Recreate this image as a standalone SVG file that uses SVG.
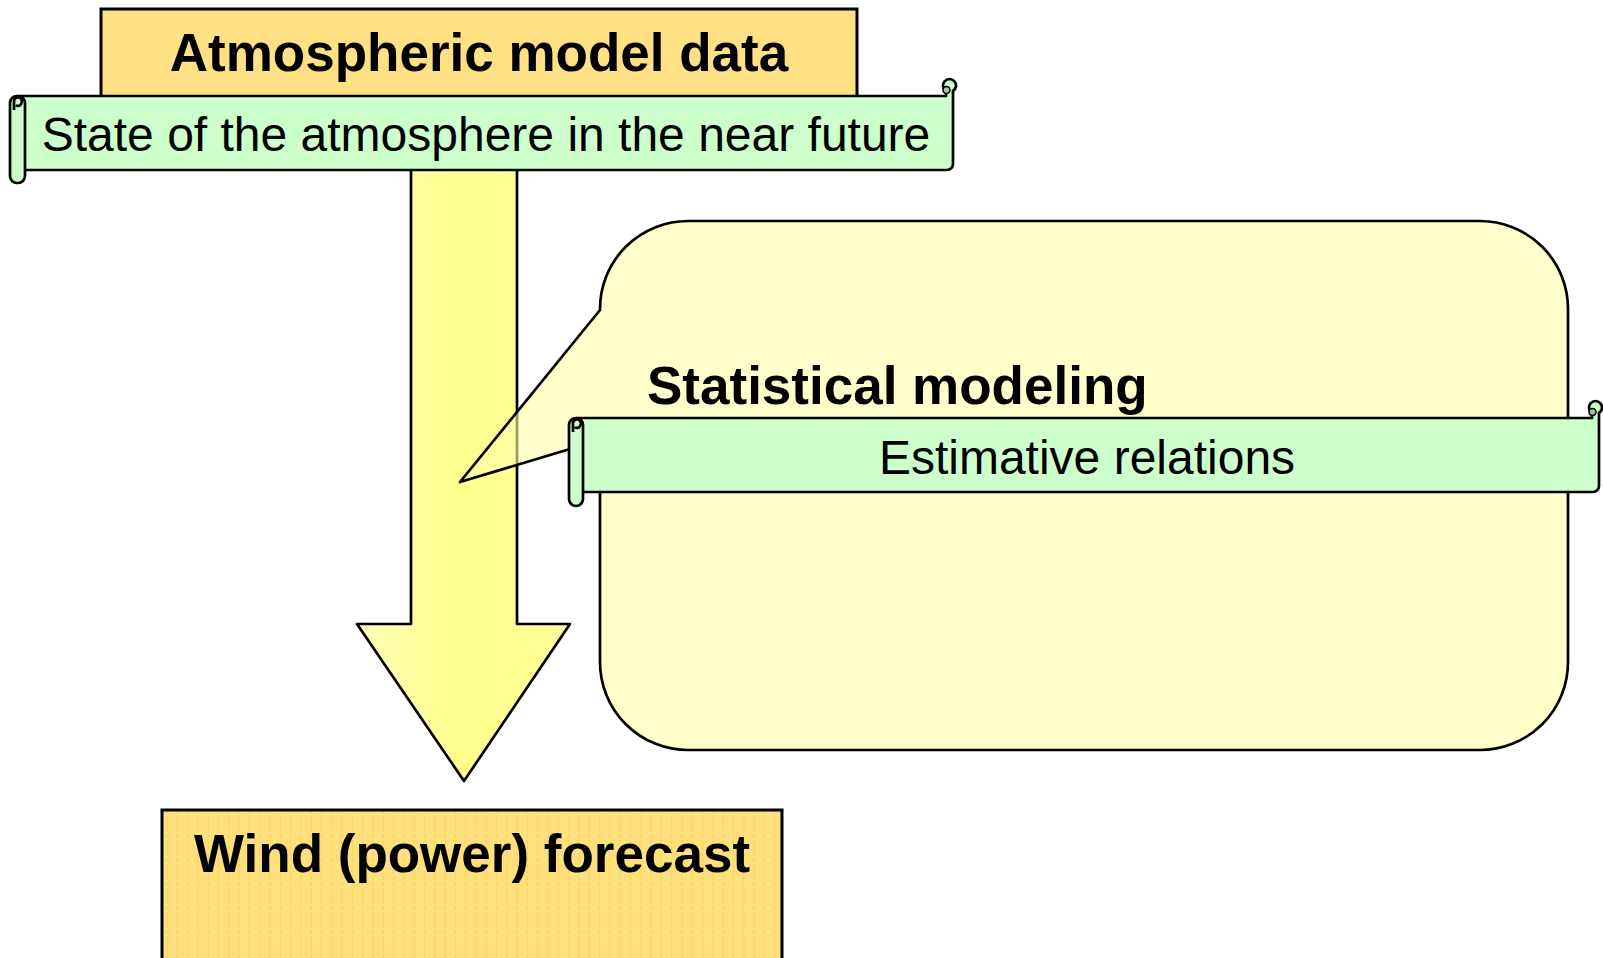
<svg xmlns="http://www.w3.org/2000/svg" width="1603" height="958" viewBox="0 0 1603 958">
<style>
.t{font-family:"Liberation Sans",Arial,sans-serif;fill:#000}
.b{font-weight:bold;font-size:53px}
.r{font-size:48px}
.ln{stroke:#000;stroke-width:2.7;stroke-linejoin:round}
.gr{fill:#ccffcc}
</style>
<defs>
<linearGradient id="ag" x1="0" y1="0" x2="1" y2="0">
<stop offset="0" stop-color="#ffffb8"/>
<stop offset="0.5" stop-color="#ffff8c"/>
<stop offset="1" stop-color="#ffff9c"/>
</linearGradient>
<pattern id="st" width="10.3" height="12" patternUnits="userSpaceOnUse" x="162">
<rect width="10.3" height="12" fill="#ffe07f"/>
<line x1="5" y1="0" x2="5" y2="12" stroke="#ffd040" stroke-width="1" stroke-dasharray="4 2"/>
</pattern>
</defs>

<g id="connectors">
<path id="arrow" class="ln" fill="url(#ag)" d="M411,168 H517 V624 H570 L464,781 L357,624 H411 Z"/>
</g>

<g id="atmospheric-model-data">
<rect x="101" y="9" width="756" height="88" fill="#ffe085" stroke="#000" stroke-width="3"/>
<text class="t b" x="479" y="71" text-anchor="middle">Atmospheric model data</text>
</g>

<g id="state-scroll">
<path class="ln gr" d="M18,96 H946 V91 A6.5,6.5 0 1 1 953,91 V164 A6,6 0 0 1 947,170 H25"/>
<circle cx="946.5" cy="90" r="3.5" fill="#99cc99" stroke="#000" stroke-width="1.5"/>
<rect class="ln gr" x="10" y="96" width="15" height="87" rx="7"/>
<path class="ln" fill="none" d="M14,110 V102 A4,4 0 1 1 21,104 A3,3 0 0 1 16,105"/>
<text class="t r" x="486" y="151" text-anchor="middle">State of the atmosphere in the near future</text>
</g>

<g id="wind-power-forecast">
<rect x="162" y="810" width="620" height="170" fill="url(#st)" stroke="#000" stroke-width="3"/>
<text class="t b" x="472" y="872" text-anchor="middle">Wind (power) forecast</text>
</g>

<g id="statistical-modeling">
<path class="ln" fill="#ffffaa" fill-opacity="0.6" d="M688,221 H1480 A88,88 0 0 1 1568,309 V662 A88,88 0 0 1 1480,750 H688 A88,88 0 0 1 600,662 V440 L460,482 L600,310 V309 A88,88 0 0 1 688,221 Z"/>
<text class="t b" x="647" y="404">Statistical modeling</text>
</g>

<g id="estimative-scroll">
<path class="ln gr" d="M576,418 H1592 V413 A6.5,6.5 0 1 1 1599,413 V486 A6,6 0 0 1 1593,492 H583"/>
<circle cx="1592.5" cy="412" r="3.5" fill="#99cc99" stroke="#000" stroke-width="1.5"/>
<rect class="ln gr" x="569" y="418" width="14" height="88" rx="7"/>
<path class="ln" fill="none" d="M573,432 V424 A4,4 0 1 1 580,426 A3,3 0 0 1 575,427"/>
<text class="t r" x="1087" y="474" text-anchor="middle">Estimative relations</text>
</g>
</svg>
